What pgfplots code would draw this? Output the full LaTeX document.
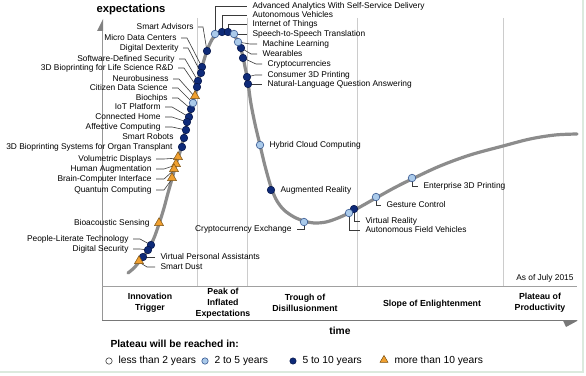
\documentclass[border=0pt]{standalone}
\usepackage{pgfplots}
\pgfplotsset{compat=1.18}
\usepackage{fontspec}
\setmainfont{Liberation Sans}
\definecolor{dk}{HTML}{0E2A78}
\definecolor{dkedge}{HTML}{061648}
\definecolor{lt}{HTML}{AACAEA}
\definecolor{ltedge}{HTML}{34558F}
\definecolor{tri}{HTML}{F0A030}
\definecolor{triedge}{HTML}{7A5010}
\definecolor{curve}{HTML}{8C8C8C}
\definecolor{grid}{HTML}{CCCCCC}
\definecolor{lead}{HTML}{3A3A3A}
\newcommand{\lbl}{\fontsize{8.4}{9}\selectfont}
\newcommand{\phs}{\fontsize{8.8}{11}\selectfont\bfseries}
\begin{document}
\begin{tikzpicture}
\path[use as bounding box] (0,0) rectangle (586bp,376bp);
\begin{axis}[at={(0,0)}, anchor=south west, scale only axis, width=586bp, height=376bp,
  xmin=0, xmax=586, ymin=0, ymax=376, y dir=reverse, hide axis, clip=false,
  every node/.append style={inner sep=0pt, outer sep=0pt}]
% frame
\draw[color={rgb,255:red,220;green,234;blue,222}, line width=1.5bp] (583,0) -- (583,372) -- (0,372);
% dividers
\draw[grid, line width=0.8bp] (197,18) -- (197,286);
\draw[grid, line width=0.8bp] (247,18) -- (247,286);
\draw[grid, line width=0.8bp] (357,18) -- (357,286);
\draw[grid, line width=0.8bp] (503,18) -- (503,286);
% axes
\draw[color={rgb,255:red,150;green,150;blue,150}, line width=0.8bp] (102,31) -- (102,320);
\fill[color={rgb,255:red,130;green,130;blue,130}] (97,31) -- (103,31) -- (103,19) -- cycle;
\draw[color={rgb,255:red,160;green,160;blue,160}, line width=0.8bp] (102,286) -- (577,286);
\draw[color={rgb,255:red,120;green,120;blue,120}, line width=0.9bp] (102,320) -- (577,320);
\fill[color={rgb,255:red,120;green,120;blue,120}] (563,320.5) -- (578,320.5) -- (566,327) -- cycle;
% curve
\addplot[curve, line width=3.2bp, smooth, tension=0.55, line cap=round] coordinates {
(128,273) (134,268) (139,262) (144,256) (149,248) (154,238) (159,224) (164,208) (168,193)
(172,179) (176,164) (180,152) (183,140) (186,128) (189,117) (192,106) (195,95) (198,83)
(201,71) (204,60) (208,48) (213,38) (219,33) (225,31) (231,33) (236,38) (240,46) (243,57)
(245,67) (247,77) (249,90) (251,104) (255,124) (260,145) (264,162) (268,177) (272,190)
(277,201) (284,210) (294,217) (304,221) (314,223) (326,222) (338,218) (349,213) (360,207)
(376,198) (394,188) (412,179) (440,166) (470,155) (503,146) (530,139) (555,135) (577,134)};
% leaders left
\draw[lead, line width=0.6bp] (198,27) -- (203,27) -- (207,51);
\draw[lead, line width=0.6bp] (181,38) -- (187,38) -- (202,67);
\draw[lead, line width=0.6bp] (183,48) -- (188,48) -- (201,73);
\draw[lead, line width=0.6bp] (179,59) -- (185,59) -- (198,81);
\draw[lead, line width=0.6bp] (178,68) -- (184,68) -- (197,87);
\draw[lead, line width=0.6bp] (173,79) -- (179,79) -- (195,97);
\draw[lead, line width=0.6bp] (172,88) -- (178,88) -- (193,103);
\draw[lead, line width=0.6bp] (172,98) -- (178,98) -- (191,109);
\draw[lead, line width=0.6bp] (165,107) -- (172,107) -- (189,117);
\draw[lead, line width=0.6bp] (165,117) -- (172,117) -- (187,122);
\draw[lead, line width=0.6bp] (165,127) -- (172,127) -- (186,130);
\draw[lead, line width=0.6bp] (156,159) -- (164,159) -- (178,158);
\draw[lead, line width=0.6bp] (156,169) -- (164,169) -- (176,165);
\draw[lead, line width=0.6bp] (156,179) -- (164,179) -- (174,170);
\draw[lead, line width=0.6bp] (156,190) -- (164,190) -- (172,179);
\draw[lead, line width=0.6bp] (133,239) -- (140,239) -- (151,245);
\draw[lead, line width=0.6bp] (133,249) -- (140,249) -- (148,250);
\draw[lead, line width=0.6bp] (155,257) -- (143,257);
\draw[lead, line width=0.6bp] (155,267) -- (147,267) -- (139,262);
% leaders right (peak)
\draw[lead, line width=0.6bp] (215,34) -- (215,6) -- (247,6);
\draw[lead, line width=0.6bp] (222,32) -- (222,15) -- (247,15);
\draw[lead, line width=0.6bp] (228,32) -- (228,24) -- (247,24);
\draw[lead, line width=0.6bp] (234,34) -- (247,34);
\draw[lead, line width=0.6bp] (238,42) -- (250,44) -- (257,44);
\draw[lead, line width=0.6bp] (241,48) -- (251,54) -- (257,54);
\draw[lead, line width=0.6bp] (243,58) -- (256,64) -- (262,64);
\draw[lead, line width=0.6bp] (247,77) -- (255,75) -- (262,75);
\draw[lead, line width=0.6bp] (248,84) -- (262,84);
% leaders bottom
\draw[lead, line width=0.6bp] (297,229) -- (304,229) -- (304,222);
\draw[lead, line width=0.6bp] (349,213) -- (349,230) -- (360,230);
\draw[lead, line width=0.6bp] (354,209) -- (354,221) -- (360,221);
\draw[lead, line width=0.6bp] (376,197) -- (376,205) -- (381,205);
\draw[lead, line width=0.6bp] (412,178) -- (412,186) -- (418,186);
% markers
\addplot[only marks, mark=*, mark size=3.8bp, mark options={fill=dk, draw=dkedge, line width=0.5bp}] coordinates {
(207,51) (202,67) (201,73) (198,81) (197,87) (191,109) (189,117) (187,122) (186,130) (184,138) (182,147)
(151,245) (148,250) (143,257)
(222,32) (228,32) (241,48) (243,58) (247,77) (248,84)
(271,190) (354,209)};
\addplot[only marks, mark=*, mark size=3.8bp, mark options={fill=lt, draw=ltedge, line width=0.6bp}] coordinates {
(193,103) (215,34) (234,34) (238,42) (260,145) (304,222) (349,213) (376,197) (412,178)};
\addplot[only marks, mark=triangle*, mark size=5.2bp, mark options={fill=tri, draw=triedge, line width=0.5bp}] coordinates {
(195,96) (178,157) (176,164) (174,169) (172,178) (159,223) (139,261)};
% legend markers
\addplot[only marks, mark=*, mark size=3.2bp, mark options={fill=white, draw=lead, line width=0.6bp}] coordinates {(109,361)};
\addplot[only marks, mark=*, mark size=3.2bp, mark options={fill=lt, draw=ltedge, line width=0.6bp}] coordinates {(205,361)};
\addplot[only marks, mark=*, mark size=3.2bp, mark options={fill=dk, draw=dkedge, line width=0.5bp}] coordinates {(293,361)};
\addplot[only marks, mark=triangle*, mark size=4.6bp, mark options={fill=tri, draw=triedge, line width=0.5bp}] coordinates {(384,360)};
% left labels
\node[anchor=east, font=\lbl] at (197,27) {Smart Advisors};
\node[anchor=east, font=\lbl] at (180,38) {Micro Data Centers};
\node[anchor=east, font=\lbl] at (182,48) {Digital Dexterity};
\node[anchor=east, font=\lbl] at (178,59) {Software-Defined Security};
\node[anchor=east, font=\lbl] at (177,68) {3D Bioprinting for Life Science R\&D};
\node[anchor=east, font=\lbl] at (172,79) {Neurobusiness};
\node[anchor=east, font=\lbl] at (171,88) {Citizen Data Science};
\node[anchor=east, font=\lbl] at (171,98) {Biochips};
\node[anchor=east, font=\lbl] at (164,107) {IoT Platform};
\node[anchor=east, font=\lbl] at (164,117) {Connected Home};
\node[anchor=east, font=\lbl] at (164,127) {Affective Computing};
\node[anchor=east, font=\lbl] at (177,137) {Smart Robots};
\node[anchor=east, font=\lbl] at (176,147) {3D Bioprinting Systems for Organ Transplant};
\node[anchor=east, font=\lbl] at (155,159) {Volumetric Displays};
\node[anchor=east, font=\lbl] at (155,169) {Human Augmentation};
\node[anchor=east, font=\lbl] at (155,179) {Brain-Computer Interface};
\node[anchor=east, font=\lbl] at (155,190) {Quantum Computing};
\node[anchor=east, font=\lbl] at (153,223) {Bioacoustic Sensing};
\node[anchor=east, font=\lbl] at (132,239) {People-Literate Technology};
\node[anchor=east, font=\lbl] at (132,249) {Digital Security};
\node[anchor=west, font=\lbl] at (157,257) {Virtual Personal Assistants};
\node[anchor=west, font=\lbl] at (157,267) {Smart Dust};
% right labels
\node[anchor=west, font=\lbl] at (249,6) {Advanced Analytics With Self-Service Delivery};
\node[anchor=west, font=\lbl] at (249,15) {Autonomous Vehicles};
\node[anchor=west, font=\lbl] at (249,24) {Internet of Things};
\node[anchor=west, font=\lbl] at (249,34) {Speech-to-Speech Translation};
\node[anchor=west, font=\lbl] at (259,44) {Machine Learning};
\node[anchor=west, font=\lbl] at (259,54) {Wearables};
\node[anchor=west, font=\lbl] at (264,64) {Cryptocurrencies};
\node[anchor=west, font=\lbl] at (264,75) {Consumer 3D Printing};
\node[anchor=west, font=\lbl] at (264,84) {Natural-Language Question Answering};
\node[anchor=west, font=\lbl] at (266,145) {Hybrid Cloud Computing};
\node[anchor=west, font=\lbl] at (277,190) {Augmented Reality};
\node[anchor=east, font=\lbl] at (295,229) {Cryptocurrency Exchange};
\node[anchor=west, font=\lbl] at (362,221) {Virtual Reality};
\node[anchor=west, font=\lbl] at (362,230) {Autonomous Field Vehicles};
\node[anchor=west, font=\lbl] at (383,205) {Gesture Control};
\node[anchor=west, font=\lbl] at (420,186) {Enterprise 3D Printing};
\node[anchor=east, font=\lbl] at (577,278) {As of July 2015};
% titles
\node[font=\fontsize{11.3}{12}\selectfont\bfseries] at (131,10) {expectations};
\node[font=\fontsize{10.3}{12}\selectfont\bfseries] at (340,331) {time};
% phases
\node[font=\phs, align=center] at (150,303) {Innovation\\Trigger};
\node[font=\phs, align=center] at (223,303) {Peak of\\Inflated\\Expectations};
\node[font=\phs, align=center] at (305,303) {Trough of\\Disillusionment};
\node[font=\phs, align=center] at (432,304) {Slope of Enlightenment};
\node[font=\phs, align=center] at (540,303) {Plateau of\\Productivity};
% legend
\node[anchor=west, font=\fontsize{10.3}{12}\selectfont\bfseries] at (107,344) {Plateau will be reached in:};
\node[anchor=west, font=\fontsize{10.3}{12}\selectfont] at (115,361) {less than 2 years};
\node[anchor=west, font=\fontsize{10.3}{12}\selectfont] at (211,361) {2 to 5 years};
\node[anchor=west, font=\fontsize{10.3}{12}\selectfont] at (299,361) {5 to 10 years};
\node[anchor=west, font=\fontsize{10.3}{12}\selectfont] at (391,361) {more than 10 years};
\end{axis}
\end{tikzpicture}
\end{document}
